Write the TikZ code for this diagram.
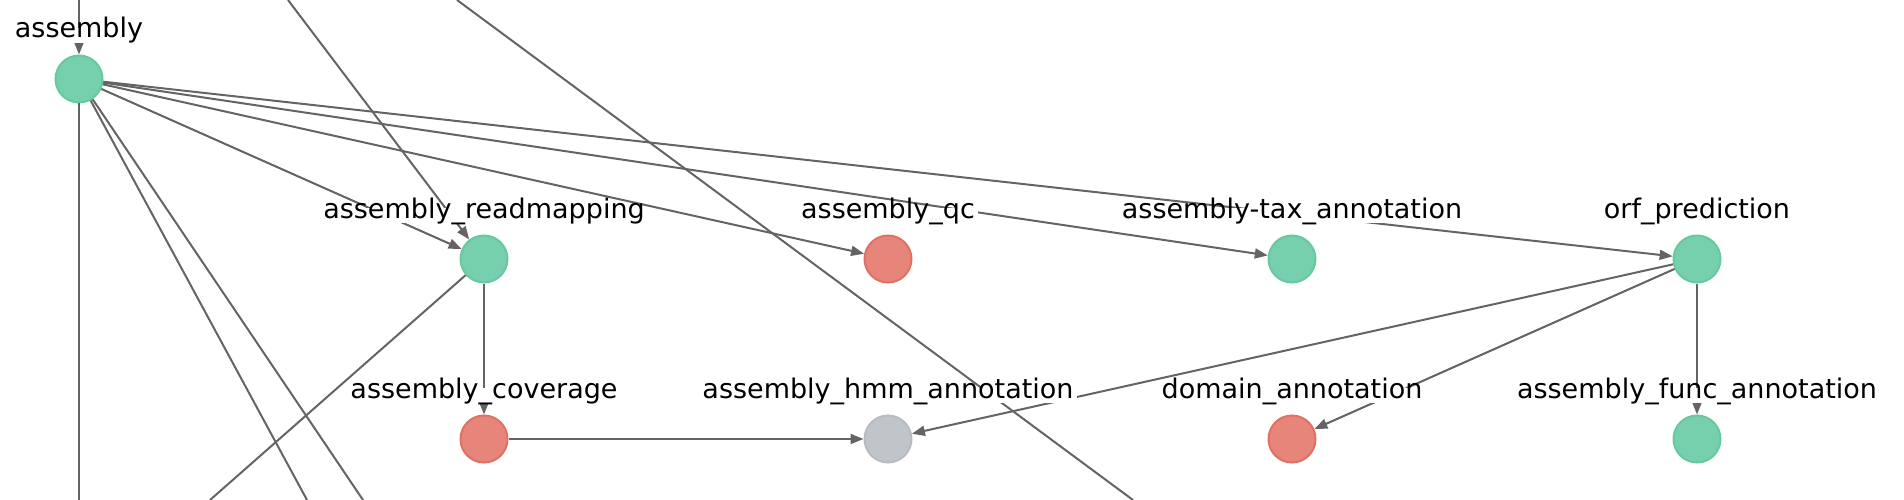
\documentclass[tikz,border=0pt]{standalone}
\usepackage{fontspec}
\setmainfont{DejaVu Sans}
\usetikzlibrary{arrows.meta}
\definecolor{gfill}{RGB}{118,208,173}
\definecolor{gdraw}{RGB}{104,200,160}
\definecolor{rfill}{RGB}{231,133,122}
\definecolor{rdraw}{RGB}{224,112,100}
\definecolor{yfill}{RGB}{192,197,201}
\definecolor{ydraw}{RGB}{182,188,193}
\definecolor{edgec}{RGB}{100,100,100}
\tikzset{
  job/.style={circle, minimum size=47pt, inner sep=0pt, line width=2pt},
  okjob/.style={job, fill=gfill, draw=gdraw},
  badjob/.style={job, fill=rfill, draw=rdraw},
  idlejob/.style={job, fill=yfill, draw=ydraw},
  lbl/.style={fill=white, inner xsep=3pt, inner ysep=2.5pt, anchor=base,
    font=\fontsize{27}{32}\selectfont, text height=0.74em, text depth=0.24em},
  dep/.style={draw=edgec, line width=2pt, -{Triangle[length=13pt,width=10pt]}},
  link/.style={draw=edgec, line width=2pt}
}
\begin{document}
\begin{tikzpicture}[x=1pt,y=-1pt]
\useasboundingbox (0,0) rectangle (1904,500);
\clip (0,0) rectangle (1904,500);
% nodes
\node[okjob] (asm) at (79,79) {};
\node[okjob] (rm) at (484,259) {};
\node[badjob] (qc) at (888,259) {};
\node[okjob] (tax) at (1292,259) {};
\node[okjob] (orf) at (1697,259) {};
\node[badjob] (cov) at (484,439) {};
\node[idlejob] (hmm) at (888,439) {};
\node[badjob] (dom) at (1292,439) {};
\node[okjob] (func) at (1697,439) {};
% off-picture ends
\coordinate (t1) at (79,0);
\coordinate (t2) at (288,0);
\coordinate (t3) at (457,0);
\coordinate (b0) at (79,500);
\coordinate (b1) at (307,500);
\coordinate (b2) at (363,500);
\coordinate (b3) at (210,500);
\coordinate (b4) at (1133,500);
% edges
\draw[dep] (t1) -- (asm);
\draw[dep] (t2) -- (rm);
\draw[link] (t3) -- (b4);
\draw[link] (asm) -- (b0);
\draw[link] (asm) -- (b1);
\draw[link] (asm) -- (b2);
\draw[link] (rm) -- (b3);
\draw[dep] (asm) -- (rm);
\draw[dep] (asm) -- (qc);
\draw[dep] (asm) -- (tax);
\draw[dep] (asm) -- (orf);
\draw[dep] (rm) -- (cov);
\draw[dep] (cov) -- (hmm);
\draw[dep] (orf) -- (hmm);
\draw[dep] (orf) -- (dom);
\draw[dep] (orf) -- (func);
% labels
\node[lbl] (l-asm) at (79,38) {assembly};
\node[lbl] (l-rm) at (484,218) {assembly\_readmapping};
\node[lbl] (l-qc) at (888,218) {assembly\_qc};
\node[lbl] (l-tax) at (1292,218) {assembly-tax\_annotation};
\node[lbl] (l-orf) at (1697,218) {orf\_prediction};
\node[lbl] (l-cov) at (484,398) {assembly\_coverage};
\node[lbl] (l-hmm) at (888,398) {assembly\_hmm\_annotation};
\node[lbl] (l-dom) at (1292,398) {domain\_annotation};
\node[lbl] (l-func) at (1697,398) {assembly\_func\_annotation};
\end{tikzpicture}
\end{document}
